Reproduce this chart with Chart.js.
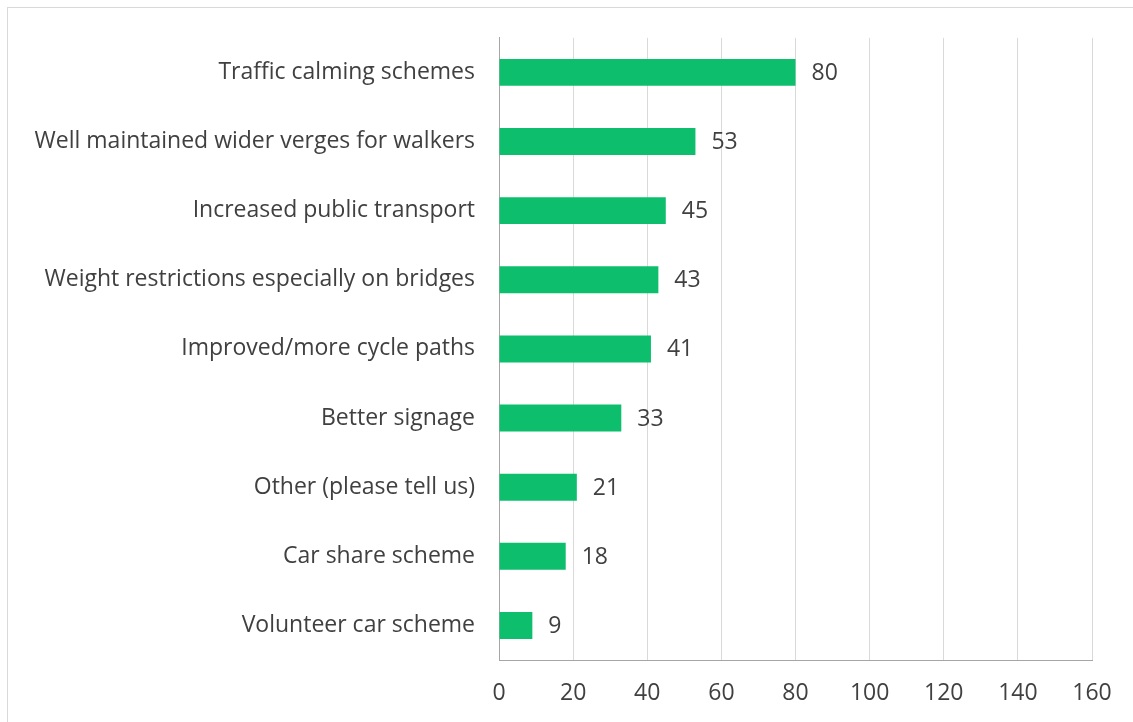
<!DOCTYPE html>
<html>
<head>
<meta charset="utf-8">
<script src="https://cdn.jsdelivr.net/npm/chart.js@4/dist/chart.umd.min.js"></script>
<style>
  html, body { margin: 0; padding: 0; background: #fff; overflow: hidden; }
  #frame { position: absolute; left: 7px; top: 7px; width: 1200px; height: 800px; border: 1px solid #d9d9d9; }
  #wrap { position: absolute; left: 0; top: 0; width: 1133px; height: 722px; }
</style>
</head>
<body>
<div id="frame"></div>
<div id="wrap"><canvas id="chart"></canvas></div>
<script>
// categories (top to bottom) and values
const categories = [
  "Traffic calming schemes",
  "Well maintained wider verges for walkers",
  "Increased public transport",
  "Weight restrictions especially on bridges",
  "Improved/more cycle paths",
  "Better signage",
  "Other (please tell us)",
  "Car share scheme",
  "Volunteer car scheme"
];
const counts = [80, 53, 45, 43, 41, 33, 21, 18, 9];
const xTicks = [0, 20, 40, 60, 80, 100, 120, 140, 160];

const fontFamily = "'Open Sans', 'Noto Sans', sans-serif";
const textColor = "#404040";

// draws the number at the end of each bar
const valueLabels = {
  id: 'valueLabels',
  afterDatasetsDraw(chart) {
    const ctx = chart.ctx;
    const meta = chart.getDatasetMeta(0);
    ctx.save();
    ctx.font = "23px " + fontFamily;
    ctx.fillStyle = textColor;
    ctx.textAlign = 'left';
    ctx.textBaseline = 'middle';
    meta.data.forEach((bar, i) => {
      ctx.fillText(String(counts[i]), bar.x + 16, bar.y + 1);
    });
    ctx.restore();
  }
};

const ctx = document.getElementById('chart').getContext('2d');
new Chart(ctx, {
  type: 'bar',
  data: {
    labels: categories,
    datasets: [{
      data: counts,
      backgroundColor: '#0dbf6d',
      borderWidth: 0,
      barPercentage: 0.78,
      categoryPercentage: 0.5
    }]
  },
  options: {
    indexAxis: 'y',
    responsive: true,
    maintainAspectRatio: false,
    animation: false,
    layout: { padding: { top: 37, right: 41, bottom: 0, left: 0 } },
    plugins: {
      legend: { display: false },
      tooltip: { enabled: false }
    },
    scales: {
      x: {
        min: 0,
        max: 160,
        afterBuildTicks(scale) {
          scale.ticks = xTicks.map(v => ({ value: v }));
        },
        afterFit(scale) { scale.height = 62; },
        grid: { color: '#d9d9d9', lineWidth: 1, drawTicks: false },
        border: { color: '#a6a6a6', width: 1 },
        ticks: {
          padding: 20,
          color: textColor,
          font: { family: fontFamily, size: 23 }
        }
      },
      y: {
        afterFit(scale) { scale.width = 499; },
        grid: { display: false, drawTicks: false },
        border: { color: '#a6a6a6', width: 1 },
        ticks: {
          padding: 24,
          color: textColor,
          font: { family: fontFamily, size: 23 }
        }
      }
    }
  },
  plugins: [valueLabels]
});
</script>
</body>
</html>
